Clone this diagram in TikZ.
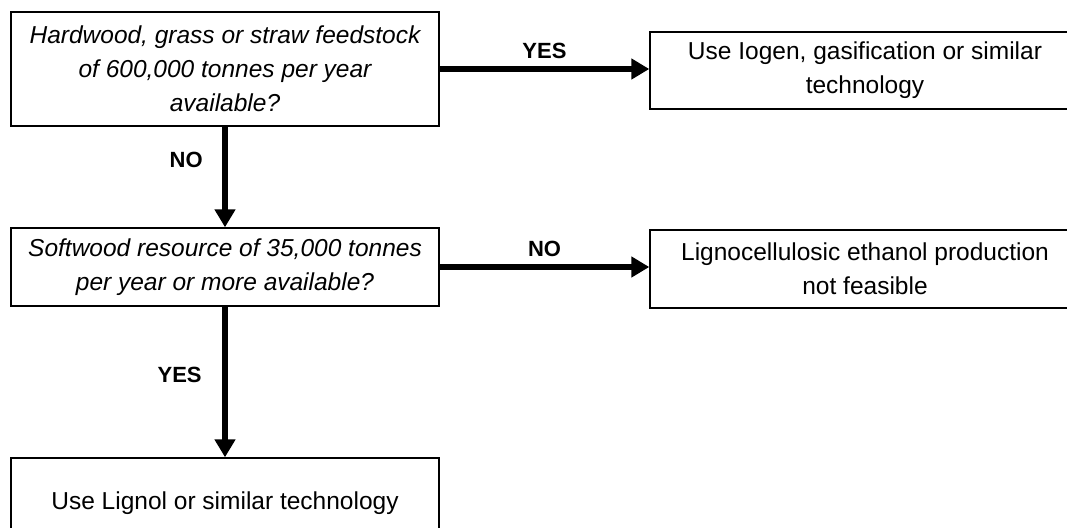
\documentclass[tikz,border=0pt]{standalone}
\usepackage{fontspec}
\setmainfont{Liberation Sans}
\usetikzlibrary{arrows.meta}
\begin{document}
\begin{tikzpicture}[x=1pt,y=-1pt,
  box/.style={draw=black,line width=1.4pt,fill=white,rectangle,inner sep=0pt,
    align=center,font=\fontsize{24.5}{34}\selectfont},
  question/.style={box,font=\fontsize{24.5}{34}\selectfont\itshape},
  flow/.style={line width=6pt,-{Triangle[length=18pt,width=20pt]}},
  lbl/.style={font=\fontsize{22}{25}\selectfont\bfseries}]
\useasboundingbox (0,0) rectangle (1067,527);
% decision boxes
\node[question,minimum width=428pt,minimum height=114pt] (q1) at (225,69)
  {Hardwood, grass or straw feedstock\\of 600,000 tonnes per year\\available?};
\node[question,minimum width=428pt,minimum height=78pt] (q2) at (225,267)
  {Softwood resource of 35,000 tonnes\\per year or more available?};
% outcome boxes
\node[box,minimum width=430pt,minimum height=77pt] (r1) at (865,70.5)
  {Use Iogen, gasification or similar\\technology};
\node[box,minimum width=430pt,minimum height=78pt] (r2) at (865,269)
  {Lignocellulosic ethanol production\\not feasible};
\node[box,minimum width=428pt,minimum height=90pt] (r3) at (225,503)
  {Use Lignol or similar technology};
% connectors
\draw[flow] (q1.east |- 0,69) -- (r1.west |- 0,69)
  node[lbl,midway,above=4pt] {YES};
\draw[flow] (q1.south) -- (q2.north)
  node[lbl,midway,left=16pt,yshift=17pt] {NO};
\draw[flow] (q2.east |- 0,267) -- (r2.west |- 0,267)
  node[lbl,midway,above=4pt] {NO};
\draw[flow] (q2.south) -- (r3.north)
  node[lbl,midway,left=17pt,yshift=7pt] {YES};
\end{tikzpicture}
\end{document}
